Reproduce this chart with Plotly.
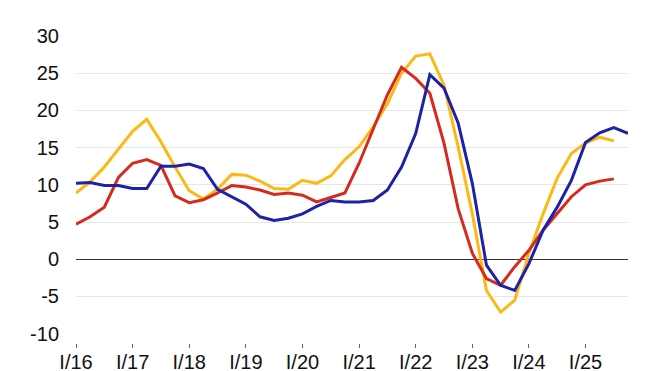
import plotly.graph_objects as go

quarters = [f"{q}/{y:02d}" for y in range(16, 26) for q in ["I", "II", "III", "IV"]]

yellow = [8.9, 10.4, 12.4, 14.75, 17.2, 18.8, 15.8, 12.4, 9.2, 8.1,
          9.4, 11.4, 11.3, 10.5, 9.5, 9.4, 10.6, 10.2, 11.2, 13.4,
          15.1, 17.8, 20.9, 25.0, 27.3, 27.6, 23.4, 15.1, 6.1, -4.2,
          -7.1, -5.5, 0.8, 6.1, 10.9, 14.2, 15.6, 16.4, 15.9]
red = [4.7, 5.7, 7.0, 11.0, 12.9, 13.4, 12.6, 8.5, 7.6, 8.0,
       8.9, 9.9, 9.7, 9.3, 8.7, 8.9, 8.6, 7.7, 8.3, 8.9,
       12.9, 17.4, 22.1, 25.8, 24.3, 22.3, 15.6, 6.8, 0.8, -2.6,
       -3.5, -1.0, 1.2, 3.9, 6.1, 8.4, 10.0, 10.5, 10.8]
blue = [10.2, 10.3, 9.9, 9.9, 9.5, 9.5, 12.5, 12.5, 12.8, 12.2,
        9.4, 8.4, 7.4, 5.7, 5.2, 5.5, 6.1, 7.1, 7.9, 7.7,
        7.7, 7.9, 9.3, 12.4, 16.9, 24.8, 23.0, 18.3, 10.2, -0.8,
        -3.5, -4.2, -0.6, 3.9, 7.0, 10.6, 15.7, 17.0, 17.7, 16.9]

tick_labels = [f"I/{y:02d}" for y in range(16, 26)]
y_ticks = [-10, -5, 0, 5, 10, 15, 20, 25, 30]
y_tick_text = [str(v) for v in y_ticks]

font = "Liberation Sans, Arial, sans-serif"

fig = go.Figure()
for name, vals, color in [("yellow", yellow, "#FDB913"),
                          ("red", red, "#D52B1E"),
                          ("blue", blue, "#1E22A6")]:
    fig.add_trace(go.Scatter(
        x=list(range(len(vals))), y=vals, mode="lines", name=name,
        line=dict(color=color, width=3), showlegend=False,
        hoverinfo="skip"))

fig.update_layout(
    width=654, height=371,
    margin=dict(l=76, r=26, t=36, b=28),
    paper_bgcolor="white", plot_bgcolor="white",
    font=dict(family=font, size=20, color="#111111"),
    xaxis=dict(
        range=[0, len(quarters) - 1],
        tickvals=[quarters.index(t) for t in tick_labels],
        ticktext=tick_labels,
        showgrid=False, zeroline=False, showline=False,
        ticks="outside", ticklen=4, tickcolor="#666666", tickwidth=1,
        anchor="free", position=0, automargin=False,
        ticklabelstandoff=-3,
        tickfont=dict(size=20),
    ),
    yaxis=dict(
        range=[-10, 30], tickvals=y_ticks, ticktext=y_tick_text,
        domain=[0.0305, 1], automargin=False,
        showgrid=True, gridcolor="#e6e6e6", gridwidth=1,
        zeroline=True, zerolinecolor="#333333", zerolinewidth=1,
        showline=False, ticks="", ticklabelstandoff=16,
        tickfont=dict(size=20),
    ),
)

fig.write_html(
    "out.html",
    config={"displayModeBar": False, "staticPlot": True},
    post_script="document.body.style.margin='0';document.body.style.overflow='hidden';",
)
